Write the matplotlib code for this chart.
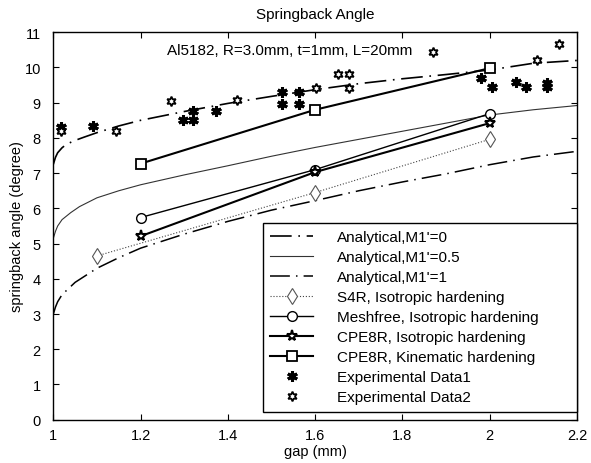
import matplotlib
matplotlib.use('Agg')
import matplotlib.pyplot as plt

# experimental points
exp1_gap = [1.018, 1.09, 1.297, 1.321, 1.321, 1.373, 1.524, 1.564, 1.524, 1.564,
            1.981, 2.006, 2.061, 2.083, 2.132, 2.132]
exp1_ang = [8.32, 8.35, 8.52, 8.52, 8.76, 8.76, 9.30, 9.30, 8.97, 8.97,
            9.69, 9.45, 9.60, 9.45, 9.57, 9.45]
exp2_gap = [1.018, 1.144, 1.27, 1.421, 1.603, 1.652, 1.677, 1.677, 1.869, 2.108, 2.159]
exp2_ang = [8.19, 8.20, 9.06, 9.07, 9.43, 9.81, 9.81, 9.43, 10.43, 10.22, 10.67]

# FE results
s4r_gap = [1.1, 1.6, 2.0]
s4r_ang = [4.65, 6.45, 7.96]
mesh_gap = [1.2, 1.6, 2.0]
mesh_ang = [5.74, 7.1, 8.69]
cpe_iso_gap = [1.2, 1.6, 2.0]
cpe_iso_ang = [5.21, 7.03, 8.42]
cpe_kin_gap = [1.2, 1.6, 2.0]
cpe_kin_ang = [7.27, 8.8, 9.98]

# analytical curves
an0_gap = [1.0, 1.005, 1.01, 1.02, 1.03, 1.05, 1.07, 1.1, 1.15, 1.2, 1.3, 1.4, 1.5,
           1.6, 1.7, 1.8, 1.9, 2.0, 2.1, 2.2]
an0_ang = [7.25, 7.45, 7.58, 7.72, 7.82, 7.93, 8.02, 8.15, 8.34, 8.5, 8.75, 8.98, 9.18,
           9.37, 9.54, 9.68, 9.8, 9.93, 10.12, 10.2]
an05_gap = [1.0, 1.005, 1.01, 1.02, 1.04, 1.06, 1.1, 1.15, 1.2, 1.3, 1.4, 1.5, 1.6,
            1.7, 1.8, 1.9, 2.0, 2.1, 2.2]
an05_ang = [5.15, 5.35, 5.5, 5.68, 5.88, 6.05, 6.3, 6.5, 6.67, 6.95, 7.21, 7.48, 7.73,
            7.96, 8.19, 8.42, 8.65, 8.8, 8.92]
an1_gap = [1.0, 1.005, 1.01, 1.02, 1.05, 1.1, 1.15, 1.2, 1.3, 1.4, 1.5, 1.6, 1.7,
           1.8, 1.9, 2.0, 2.1, 2.2]
an1_ang = [3.0, 3.2, 3.35, 3.55, 3.9, 4.3, 4.6, 4.87, 5.27, 5.63, 5.95, 6.22, 6.5,
           6.75, 6.98, 7.24, 7.46, 7.62]

plt.rcParams['font.family'] = 'Liberation Sans'
plt.rcParams['font.size'] = 10

fig = plt.figure(figsize=(5.91, 4.64), dpi=100)
ax = fig.add_axes([0.0902, 0.0933, 0.886, 0.835])

ax.plot(an0_gap, an0_ang, color='black', lw=1.2, linestyle=(0, (13, 4, 1, 4)),
        label="Analytical,M1'=0")
ax.plot(an05_gap, an05_ang, color='#333333', lw=0.8, label="Analytical,M1'=0.5")
ax.plot(an1_gap, an1_ang, color='black', lw=1.1, linestyle=(0, (13, 4, 1, 4)),
        label="Analytical,M1'=1")
ax.plot(s4r_gap, s4r_ang, color='#444444', lw=0.8, linestyle=':', marker='d', ms=8.5,
        mfc='white', mec='#555555', mew=0.8, label='S4R, Isotropic hardening')
ax.plot(mesh_gap, mesh_ang, color='black', lw=1.0, marker='o', ms=7,
        mfc='white', mec='black', mew=1.0, label='Meshfree, Isotropic hardening')
ax.plot(cpe_iso_gap, cpe_iso_ang, color='black', lw=1.5, marker='*', ms=8,
        mfc='white', mec='black', mew=1.5, label='CPE8R, Isotropic hardening')
ax.plot(cpe_kin_gap, cpe_kin_ang, color='black', lw=1.5, marker='s', ms=7,
        mfc='white', mec='black', mew=1.3, label='CPE8R, Kinematic hardening')
ax.plot(exp1_gap, exp1_ang, linestyle='none', marker=(6, 2, 0), ms=7.5, mew=2.2,
        color='black', label='Experimental Data1')
ax.plot(exp2_gap, exp2_ang, linestyle='none', marker=(6, 1, 0), ms=7, mew=1.3,
        mfc='white', mec='black', label='Experimental Data2')

ax.text(1.26, 10.5, 'Al5182, R=3.0mm, t=1mm, L=20mm', va='center', ha='left', fontsize=11)

ax.set_xlim(1, 2.2)
ax.set_ylim(0, 11)
ax.set_xticks([1, 1.2, 1.4, 1.6, 1.8, 2, 2.2])
ax.set_xticklabels(['1', '1.2', '1.4', '1.6', '1.8', '2', '2.2'])
ax.set_yticks(range(0, 12))
ax.tick_params(axis='both', direction='in', top=True, right=True, length=4, width=0.8,
               labelsize=10.5)
ax.tick_params(axis='y', pad=9)
ax.tick_params(axis='x', pad=6)
for s in ax.spines.values():
    s.set_linewidth(1.0)

ax.set_title('Springback Angle', fontsize=11, pad=10)
ax.set_xlabel('gap (mm)', fontsize=10.5, labelpad=1.5)
ax.set_ylabel('springback angle (degree)', fontsize=10.5, labelpad=0)

leg = ax.legend(loc='lower left', bbox_to_anchor=(0.3996, 0.021, 0.6004, 0.5),
                mode='expand', borderaxespad=0, fancybox=False, edgecolor='black',
                framealpha=1, fontsize=11, handlelength=2.8, handletextpad=1.6,
                labelspacing=0.39, borderpad=0.5)
leg.get_frame().set_linewidth(1.0)

fig.savefig('out.png', dpi=100)
